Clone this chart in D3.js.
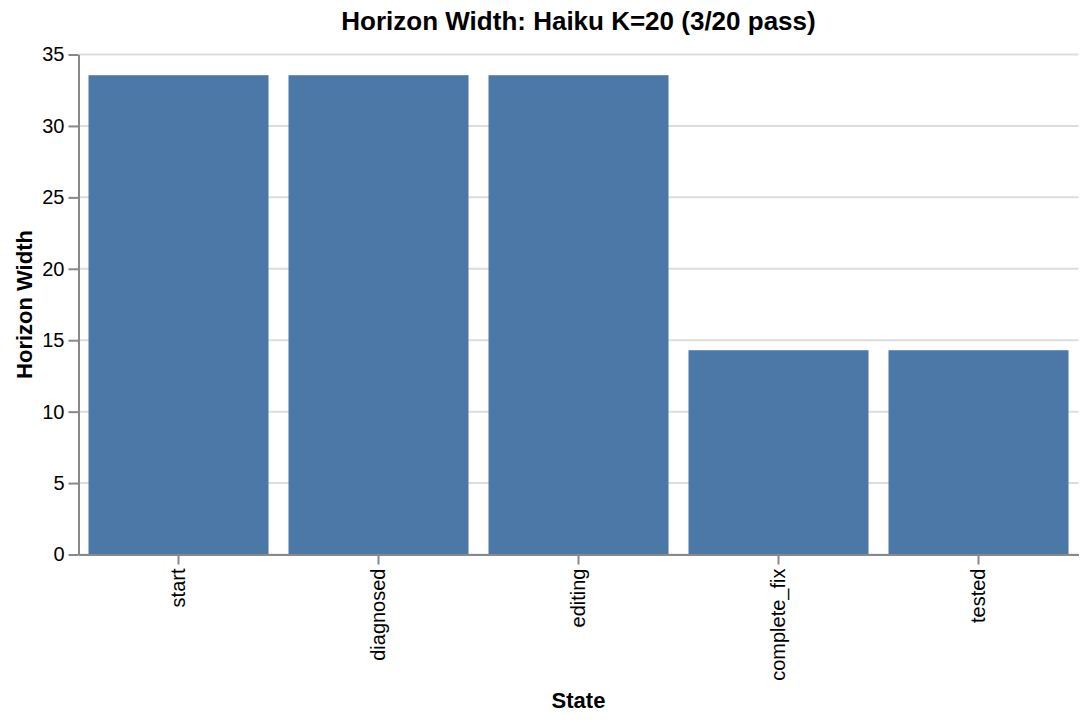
<!DOCTYPE html>
<html>
<head>
<meta charset="utf-8">
<script src="https://cdn.jsdelivr.net/npm/d3@7"></script>
<style>
  body { margin: 0; background: #fff; }
  svg text { font-family: "Liberation Sans", Arial, sans-serif; fill: #000; }
</style>
</head>
<body>
<div id="chart"></div>
<script>
const states = ['start', 'diagnosed', 'editing', 'complete_fix', 'tested'];
const widths = [33.55, 33.55, 33.55, 14.3, 14.3];
const yTicks = [0, 5, 10, 15, 20, 25, 30, 35];

const W = 1088, H = 722;
const margin = { top: 54.5, left: 78.5, width: 1000, height: 500 };

const svg = d3.select('#chart').append('svg')
    .attr('width', W)
    .attr('height', H);

const x = d3.scaleBand()
    .domain(states)
    .range([0, margin.width])
    .paddingInner(0.1)
    .paddingOuter(0.05);

const y = d3.scaleLinear()
    .domain([0, 35])
    .range([margin.height, 0]);

const g = svg.append('g')
    .attr('transform', `translate(${margin.left},${margin.top})`);

// gridlines
g.selectAll('.grid')
    .data(yTicks)
    .enter()
    .append('line')
    .attr('x1', 0)
    .attr('x2', margin.width)
    .attr('y1', d => y(d))
    .attr('y2', d => y(d))
    .attr('stroke', '#ddd')
    .attr('stroke-width', 2);

// bars
g.selectAll('.bar')
    .data(states)
    .enter()
    .append('rect')
    .attr('x', d => x(d))
    .attr('width', x.bandwidth())
    .attr('y', (d, i) => y(widths[i]))
    .attr('height', (d, i) => y(0) - y(widths[i]))
    .attr('fill', '#4c78a8');

// y axis
const yAxis = g.append('g')
    .call(d3.axisLeft(y).tickValues(yTicks).tickSize(10).tickSizeOuter(0).tickPadding(4));
yAxis.select('.domain').attr('stroke', '#888').attr('stroke-width', 2);
yAxis.selectAll('.tick line').attr('stroke', '#888').attr('stroke-width', 2);
yAxis.selectAll('.tick text').style('font-size', '20px').attr('fill', '#000');

// x axis
const xAxis = g.append('g')
    .attr('transform', `translate(0,${margin.height})`)
    .call(d3.axisBottom(x).tickSize(10).tickSizeOuter(0));
xAxis.select('.domain').attr('stroke', '#888').attr('stroke-width', 2);
xAxis.selectAll('.tick line').attr('stroke', '#888').attr('stroke-width', 2);
xAxis.selectAll('.tick text')
    .style('font-size', '20px')
    .attr('fill', '#000')
    .attr('transform', 'rotate(-90)')
    .attr('text-anchor', 'end')
    .attr('x', -14)
    .attr('y', 0)
    .attr('dy', '0.32em');

// axis titles
svg.append('text')
    .attr('x', margin.left + margin.width / 2)
    .attr('y', 708)
    .attr('text-anchor', 'middle')
    .style('font-size', '22px')
    .style('font-weight', 'bold')
    .text('State');

svg.append('text')
    .attr('transform', `translate(32,${margin.top + margin.height / 2}) rotate(-90)`)
    .attr('text-anchor', 'middle')
    .style('font-size', '22px')
    .style('font-weight', 'bold')
    .text('Horizon Width');

// title
svg.append('text')
    .attr('x', margin.left + margin.width / 2)
    .attr('y', 30)
    .attr('text-anchor', 'middle')
    .style('font-size', '26px')
    .style('font-weight', 'bold')
    .text('Horizon Width: Haiku K=20 (3/20 pass)');
</script>
</body>
</html>
